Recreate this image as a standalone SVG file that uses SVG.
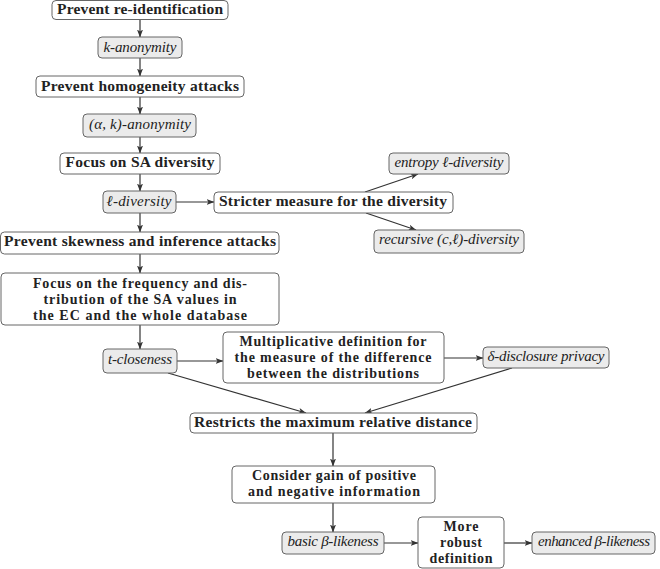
<svg xmlns="http://www.w3.org/2000/svg" width="660" height="569" viewBox="0 0 660 569">
<defs>
<marker id="ah" markerUnits="userSpaceOnUse" markerWidth="8" markerHeight="6" refX="7.5" refY="3" orient="auto">
<path d="M0,0 L8,3 L0,6 L2,3 z" fill="#333"/>
</marker>
<style>
.n rect{fill:#fff;stroke:#666;stroke-width:1}
.g rect{fill:#ebebeb;stroke:#666;stroke-width:1}
text{font-family:"Liberation Serif","Times New Roman",serif;fill:#222;text-anchor:middle}
.b{font-weight:bold;font-size:15.5px}
.m{font-weight:bold;font-size:14px}
.i{font-style:italic;font-size:15px}
#edges line{stroke:#333;stroke-width:1.2;marker-end:url(#ah)}
</style>
</defs>
<rect width="660" height="569" fill="#fff"/>
<g id="edges">
<line x1="140" y1="19" x2="140" y2="37"/>
<line x1="140" y1="58" x2="140" y2="76"/>
<line x1="140" y1="97" x2="140" y2="114"/>
<line x1="140" y1="137" x2="140" y2="153"/>
<line x1="140" y1="174" x2="140" y2="191"/>
<line x1="176" y1="202" x2="214" y2="202"/>
<line x1="365" y1="192" x2="418" y2="174"/>
<line x1="366" y1="213" x2="416" y2="230"/>
<line x1="140" y1="213" x2="140" y2="232"/>
<line x1="140" y1="254" x2="140" y2="273"/>
<line x1="140" y1="325" x2="140" y2="349"/>
<line x1="177" y1="361" x2="223" y2="361"/>
<line x1="444" y1="358" x2="483" y2="358"/>
<line x1="168" y1="373" x2="306" y2="413"/>
<line x1="512" y1="368" x2="365" y2="413"/>
<line x1="333" y1="433" x2="333" y2="466"/>
<line x1="333" y1="503" x2="333" y2="532"/>
<line x1="384" y1="543" x2="418" y2="543"/>
<line x1="504" y1="543" x2="532" y2="543"/>
</g>
<g id="n1" class="n"><rect x="52" y="0.5" width="176" height="19" rx="4"/><text class="b" x="140" y="14" textLength="166">Prevent re-identification</text></g>
<g id="n2" class="g"><rect x="98" y="37" width="84" height="21" rx="4"/><text class="i" x="140" y="52" textLength="73">k-anonymity</text></g>
<g id="n3" class="n"><rect x="36" y="76" width="208" height="21" rx="4"/><text class="b" x="140" y="91" textLength="198">Prevent homogeneity attacks</text></g>
<g id="n4" class="g"><rect x="83" y="114" width="113" height="23" rx="4"/><text class="i" x="140" y="129" textLength="102">(α, k)-anonymity</text></g>
<g id="n5" class="n"><rect x="60" y="153" width="160" height="21" rx="4"/><text class="b" x="140" y="167" textLength="149">Focus on SA diversity</text></g>
<g id="n6" class="g"><rect x="103" y="191" width="73" height="22" rx="4"/><text class="i" x="139" y="206" textLength="65">ℓ-diversity</text></g>
<g id="n7" class="n"><rect x="214" y="192" width="239" height="21" rx="4"/><text class="b" x="333" y="206" textLength="228">Stricter measure for the diversity</text></g>
<g id="n8" class="g"><rect x="389" y="153" width="120" height="21" rx="4"/><text class="i" x="449" y="167" textLength="109">entropy ℓ-diversity</text></g>
<g id="n9" class="g"><rect x="374" y="230" width="150" height="23" rx="4"/><text class="i" x="449" y="244" textLength="140">recursive (c,ℓ)-diversity</text></g>
<g id="n10" class="n"><rect x="0.5" y="232" width="278.5" height="22" rx="4"/><text class="b" x="140" y="246" textLength="272">Prevent skewness and inference attacks</text></g>
<g id="n11" class="n"><rect x="1" y="273" width="278" height="52" rx="4"/>
<text class="m" x="140" y="288" textLength="214">Focus on the frequency and dis-</text>
<text class="m" x="140" y="304" textLength="193">tribution of the SA values in</text>
<text class="m" x="140" y="320" textLength="214">the EC and the whole database</text></g>
<g id="n12" class="g"><rect x="103" y="349" width="74" height="24" rx="4"/><text class="i" x="140" y="364" textLength="64">t-closeness</text></g>
<g id="n13" class="n"><rect x="223" y="332" width="221" height="51" rx="4"/>
<text class="m" x="333" y="346" textLength="187">Multiplicative definition for</text>
<text class="m" x="333" y="362" textLength="197">the measure of the difference</text>
<text class="m" x="333" y="378" textLength="172">between the distributions</text></g>
<g id="n14" class="g"><rect x="483" y="347" width="126" height="21" rx="4"/><text class="i" x="546" y="361" textLength="117">δ-disclosure privacy</text></g>
<g id="n15" class="n"><rect x="190" y="413" width="287" height="20" rx="4"/><text class="b" x="333" y="427" textLength="278">Restricts the maximum relative distance</text></g>
<g id="n16" class="n"><rect x="232" y="466" width="203" height="37" rx="4"/>
<text class="m" x="334" y="480" textLength="164">Consider gain of positive</text>
<text class="m" x="334" y="496" textLength="172">and negative information</text></g>
<g id="n17" class="g"><rect x="282" y="532" width="102" height="22" rx="4"/><text class="i" x="333" y="546" textLength="91">basic β-likeness</text></g>
<g id="n18" class="n"><rect x="418" y="517" width="86" height="51" rx="4"/>
<text class="m" x="461" y="531" textLength="35">More</text>
<text class="m" x="461" y="547" textLength="42">robust</text>
<text class="m" x="461" y="563" textLength="63">definition</text></g>
<g id="n19" class="g"><rect x="532" y="532" width="123" height="22" rx="4"/><text class="i" x="594" y="546" textLength="112">enhanced β-likeness</text></g>
</svg>
